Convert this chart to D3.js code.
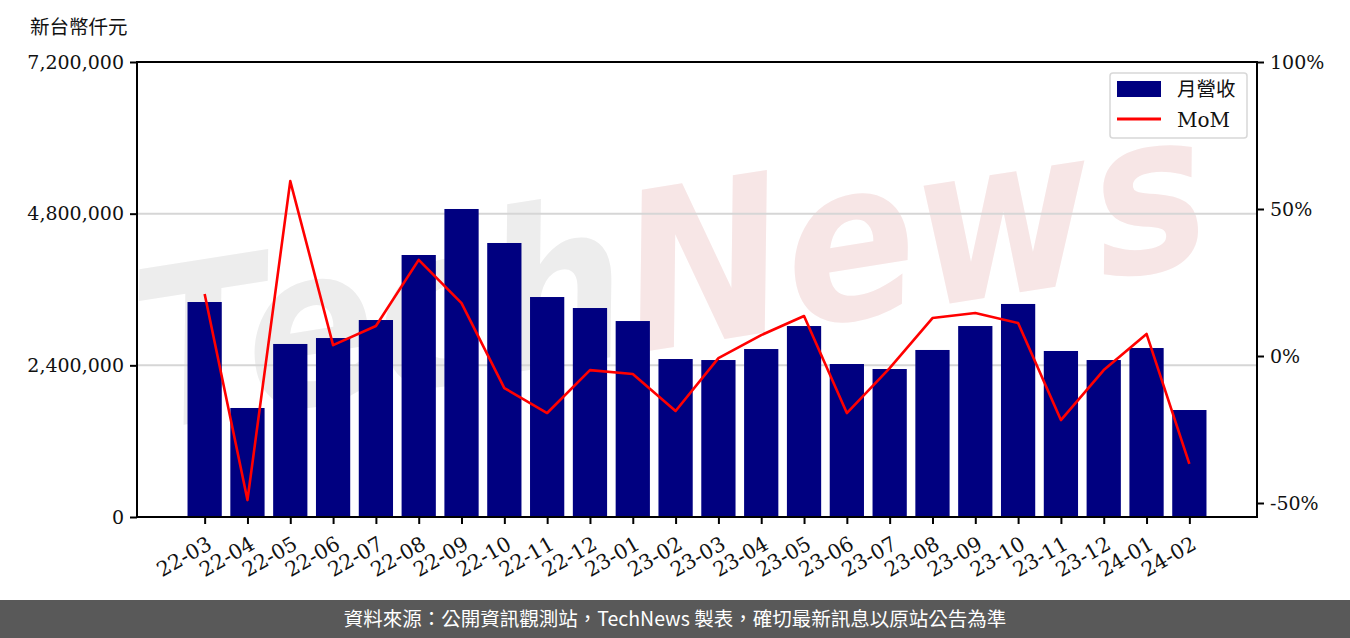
<!DOCTYPE html>
<html>
<head>
<meta charset="utf-8">
<script src="https://cdn.jsdelivr.net/npm/d3@7"></script>
<style>
    body { margin: 0; background: #fff; }
    svg { display: block; }
</style>
</head>
<body>
<div id="chart"></div>
<script>
// data
var months = ['22-03', '22-04', '22-05', '22-06', '22-07', '22-08', '22-09', '22-10', '22-11', '22-12',
    '23-01', '23-02', '23-03', '23-04', '23-05', '23-06', '23-07', '23-08', '23-09', '23-10',
    '23-11', '23-12', '24-01', '24-02'];
var revenue = [3402000, 1725000, 2738000, 2832000, 3117000, 4146000, 4874000, 4336000, 3481000, 3307000,
    3101000, 2500000, 2484000, 2658000, 3022000, 2421000, 2342000, 2643000, 3022000, 3371000,
    2627000, 2484000, 2674000, 1693000];
var mom = [21.1, -49.0, 59.5, 3.7, 10.2, 32.7, 18.0, -10.9, -19.4, -4.8,
    -6.1, -18.7, -0.7, 7.1, 13.6, -19.4, -4.1, 12.9, 14.6, 11.2,
    -21.8, -4.8, 7.5, -36.7];
var leftTicks = [0, 2400000, 4800000, 7200000];
var rightTicks = [-50, 0, 50, 100];

var W = 1350, H = 638,
    margin = {top: 62, right: 93, bottom: 121, left: 137},
    serif = '"DejaVu Serif", "Liberation Serif", serif',
    cjk = '"Noto Sans CJK TC", "Noto Sans CJK SC", sans-serif';

var svg = d3.select('#chart').append('svg')
    .attr('width', W)
    .attr('height', H);

var x = d3.scaleLinear()
    .domain([-1.58, months.length - 1 + 1.58])
    .range([margin.left, W - margin.right]);
var y = d3.scaleLinear()
    .domain([0, 7200000])
    .range([H - margin.bottom, margin.top]);
var y2 = d3.scaleLinear()
    .domain([-54.76, 100])
    .range([H - margin.bottom, margin.top]);

var barW = x(0.4) - x(-0.4);

// watermark
var wm = svg.append('text')
    .attr('transform', 'translate(150,430) rotate(-9)')
    .attr('font-family', '"DejaVu Sans", sans-serif')
    .attr('font-weight', 'bold')
    .attr('font-style', 'italic')
    .attr('font-size', 220)
    .attr('textLength', 1080)
    .attr('lengthAdjust', 'spacingAndGlyphs');
wm.append('tspan').attr('fill', '#ededed').text('Tech');
wm.append('tspan').attr('fill', '#f7e6e6').text('News');

// grid lines
svg.append('g')
    .selectAll('line')
    .data([2400000, 4800000])
    .enter()
    .append('line')
    .attr('x1', margin.left)
    .attr('x2', W - margin.right)
    .attr('y1', function (d) { return y(d); })
    .attr('y2', function (d) { return y(d); })
    .attr('stroke', '#d6d6d6')
    .attr('stroke-width', 2);

// bars
svg.append('g')
    .selectAll('rect')
    .data(revenue)
    .enter()
    .append('rect')
    .attr('x', function (d, i) { return x(i) - barW / 2; })
    .attr('width', barW)
    .attr('y', function (d) { return y(d); })
    .attr('height', function (d) { return y(0) - y(d); })
    .attr('fill', '#000080');

// MoM line
var line = d3.line()
    .x(function (d, i) { return x(i); })
    .y(function (d) { return y2(d); });
svg.append('path')
    .datum(mom)
    .attr('d', line)
    .attr('fill', 'none')
    .attr('stroke', '#ff0000')
    .attr('stroke-width', 2.6)
    .attr('stroke-linejoin', 'round');

// axes
var xAxis = svg.append('g')
    .attr('transform', 'translate(0,' + (H - margin.bottom) + ')')
    .call(d3.axisBottom(x)
        .tickValues(d3.range(months.length))
        .tickFormat(function (i) { return months[i]; })
        .tickSizeOuter(0)
        .tickSize(7));
xAxis.selectAll('text')
    .attr('font-family', serif)
    .attr('font-size', 20.5)
    .attr('fill', '#111')
    .attr('text-anchor', 'end')
    .attr('dx', -4)
    .attr('dy', 22)
    .attr('transform', 'rotate(-30,0,9)');

var yAxis = svg.append('g')
    .attr('transform', 'translate(' + margin.left + ',0)')
    .call(d3.axisLeft(y)
        .tickValues(leftTicks)
        .tickFormat(d3.format(','))
        .tickSizeOuter(0)
        .tickSize(7));
yAxis.selectAll('text')
    .attr('font-family', serif)
    .attr('font-size', 19)
    .attr('fill', '#111')
    .attr('x', -13);

var yAxis2 = svg.append('g')
    .attr('transform', 'translate(' + (W - margin.right) + ',0)')
    .call(d3.axisRight(y2)
        .tickValues(rightTicks)
        .tickFormat(function (d) { return d + '%'; })
        .tickSizeOuter(0)
        .tickSize(7));
yAxis2.selectAll('text')
    .attr('font-family', serif)
    .attr('font-size', 19)
    .attr('fill', '#111')
    .attr('x', 13);

svg.selectAll('.domain').remove();
svg.selectAll('.tick line').attr('stroke', '#000').attr('stroke-width', 2);

// frame
svg.append('rect')
    .attr('x', margin.left)
    .attr('y', margin.top)
    .attr('width', W - margin.left - margin.right)
    .attr('height', H - margin.top - margin.bottom)
    .attr('fill', 'none')
    .attr('stroke', '#000')
    .attr('stroke-width', 2);

// unit label
svg.append('text')
    .attr('x', 30)
    .attr('y', 34)
    .attr('font-family', cjk)
    .attr('font-size', 19.5)
    .attr('fill', '#111')
    .text('新台幣仟元');

// legend
var lg = svg.append('g').attr('transform', 'translate(1110,73)');
lg.append('rect')
    .attr('width', 137)
    .attr('height', 65)
    .attr('rx', 3)
    .attr('fill', '#fff')
    .attr('fill-opacity', 0.85)
    .attr('stroke', '#d8d8d8')
    .attr('stroke-width', 1.5);
lg.append('rect')
    .attr('x', 7)
    .attr('y', 8)
    .attr('width', 44)
    .attr('height', 16)
    .attr('fill', '#000080');
lg.append('line')
    .attr('x1', 7)
    .attr('x2', 51)
    .attr('y1', 46)
    .attr('y2', 46)
    .attr('stroke', '#ff0000')
    .attr('stroke-width', 3);
lg.append('text')
    .attr('x', 67)
    .attr('y', 23)
    .attr('font-family', cjk)
    .attr('font-size', 19.5)
    .attr('fill', '#111')
    .text('月營收');
lg.append('text')
    .attr('x', 67)
    .attr('y', 54)
    .attr('font-family', serif)
    .attr('font-size', 20)
    .attr('fill', '#111')
    .text('MoM');

// footer
svg.append('rect')
    .attr('x', 0)
    .attr('y', 600)
    .attr('width', W)
    .attr('height', 38)
    .attr('fill', '#595959');
svg.append('text')
    .attr('x', W / 2)
    .attr('y', 626)
    .attr('text-anchor', 'middle')
    .attr('font-family', cjk)
    .attr('font-size', 19.5)
    .attr('fill', '#fff')
    .text('資料來源：公開資訊觀測站，TechNews 製表，確切最新訊息以原站公告為準');
</script>
</body>
</html>
